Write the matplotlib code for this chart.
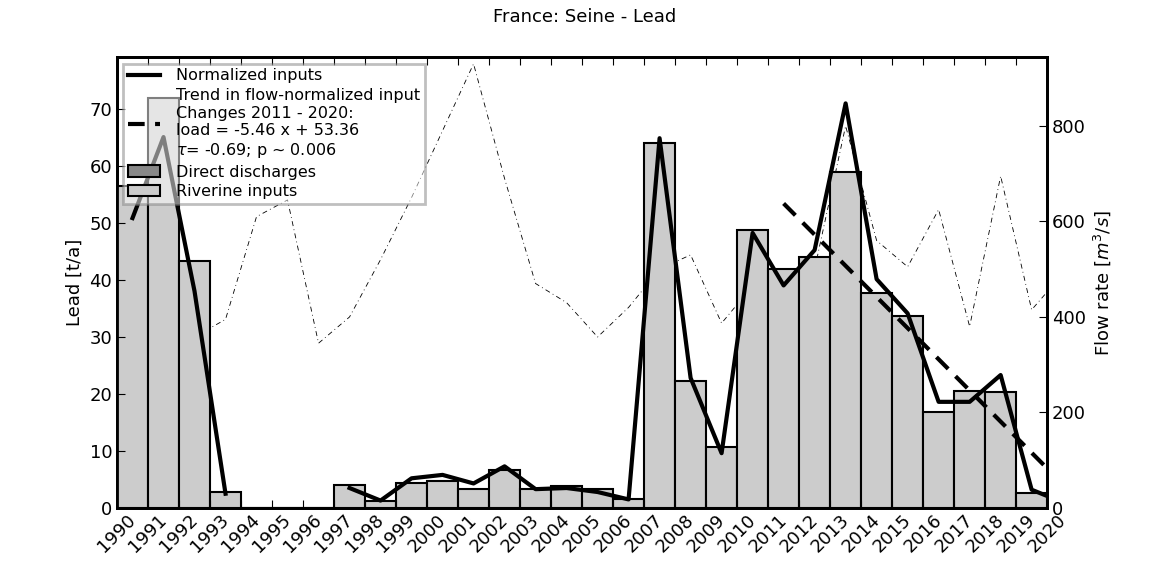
import matplotlib
matplotlib.use("Agg")
import matplotlib.pyplot as plt
import numpy as np

years = list(range(1990, 2020))
riverine = [56.4, 71.9, 43.2, 2.8, 0, 0, 0, 4.0, 1.2, 4.3, 4.7, 3.3, 6.6, 3.3, 3.8, 3.3, 1.5,
            63.9, 22.2, 10.7, 48.7, 41.9, 44.0, 58.8, 37.6, 33.6, 16.8, 20.5, 20.3, 2.6]
direct = [0]*30
norm_years = list(range(1990, 2021))
normalized = [50.8, 65.0, 38.0, 2.5, np.nan, np.nan, np.nan, 3.5, 1.3, 5.2, 5.8, 4.3, 7.3, 3.3, 3.5, 2.8, 1.5,
              64.8, 22.8, 9.6, 48.2, 39.0, 45.2, 70.9, 40.1, 34.1, 18.6, 18.6, 23.3, 3.2, 1.0]
flow = [371, 371, 358, 395, 610, 645, 345, 400, 520, 650, 790, 930, 690, 470, 430, 358, 420,
        500, 530, 387, 465, 410, 500, 800, 560, 505, 625, 380, 695, 415, 490]
trend_x = np.arange(0, 10)
trend_slope, trend_int = -5.46, 53.36

fig = plt.figure(figsize=(11.7, 5.66), dpi=100)
ax = fig.add_axes([0.1, 0.1025, 0.795, 0.7965])
ax2 = ax.twinx()
ax.set_zorder(ax2.get_zorder() + 1)
ax.patch.set_visible(False)

xs = np.array(years)
ax.bar(xs, direct, width=1, align='edge', color='#888888', edgecolor='black', lw=1.5, label='Direct discharges')
ax.bar(xs, riverine, width=1, align='edge', bottom=direct, color='#cccccc', edgecolor='black', lw=1.5, label='Riverine inputs')
ax.plot(np.array(norm_years) + 0.5, normalized, color='black', lw=3, label='Normalized inputs')
ax.plot(2011.5 + trend_x, trend_slope * trend_x + trend_int, color='black', lw=3, ls=(0, (4, 2.5)),
        label='Trend in flow-normalized input\nChanges 2011 - 2020:\nload = -5.46 x + 53.36\n$\\tau$= -0.69; p ~ 0.006')
ax2.plot(np.array(norm_years) + 0.5, flow, color='black', lw=0.6, ls=(0, (6, 4, 1, 4)))

ax.set_xlim(1990, 2020)
ax.set_ylim(0, 79)
ax2.set_ylim(0, 944)
ax.set_xticks(range(1990, 2021))
ax.set_xticklabels([str(y) for y in range(1990, 2021)], rotation=45, fontsize=13)
ax.set_yticks(range(0, 80, 10))
ax.tick_params(axis='y', labelsize=13, direction='in', length=6)
ax.tick_params(axis='x', direction='in', length=6, top=True, pad=2)
ax2.set_yticks(range(0, 900, 200))
ax2.tick_params(axis='y', labelsize=13, direction='in', length=6)
for a in (ax, ax2):
    for s in a.spines.values():
        s.set_linewidth(2)
ax.set_ylabel('Lead [t/a]', fontsize=13)
ax2.set_ylabel('Flow rate [$m^3/s$]', fontsize=13)
fig.suptitle('France: Seine - Lead', fontsize=13, y=0.985)

h, l = ax.get_legend_handles_labels()
hd = dict(zip(l, h))
names = ['Normalized inputs', l[[i for i, s in enumerate(l) if s.startswith('Trend')][0]],
         'Direct discharges', 'Riverine inputs']
leg = ax.legend([hd[n] for n in names], names, loc='upper left', fontsize=11.5,
                fancybox=False, framealpha=0.5, borderpad=0.3, labelspacing=0.3, handlelength=2,
                handletextpad=1.0, borderaxespad=0.4)
leg.get_frame().set_edgecolor('#808080')
leg.get_frame().set_linewidth(2)
fig.savefig('out.png', dpi=100)
